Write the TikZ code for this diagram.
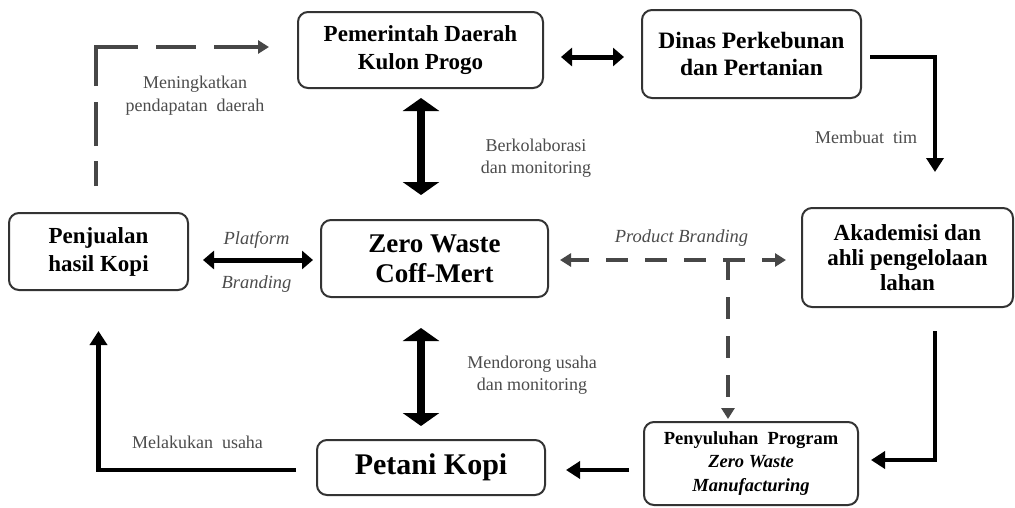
\documentclass[tikz,border=0pt]{standalone}
\usepackage{fontspec}
\setmainfont{Liberation Serif}
\usepackage{tikz}
\usetikzlibrary{shapes, arrows.meta, positioning}
\tikzstyle{kotak} = [draw=black!80, line width=2pt, rounded corners=10pt, align=center, inner sep=0pt]
\tikzstyle{ket} = [text=black!70, align=center, inner sep=0pt, font=\fontsize{18}{22.5}\selectfont]
\tikzstyle{ketmiring} = [ket, font=\itshape\fontsize{18.5}{22}\selectfont]
\tikzstyle{tebal} = [black, line width=8pt, {Triangle[width=36pt,length=13pt]}-{Triangle[width=36pt,length=13pt]}]
\tikzstyle{sedang} = [black, line width=5pt, {Triangle[width=18pt,length=11pt]}-{Triangle[width=18pt,length=11pt]}]
\tikzstyle{panah} = [black, line width=4.5pt, -{Triangle[width=17pt,length=14pt]}]
\tikzstyle{putus} = [black!72, line width=4pt, dash pattern=on 22pt off 17pt]
\tikzset{ujung/.tip={Triangle[width=13pt,length=11pt]}}

\begin{document}
\begin{tikzpicture}[x=1pt, y=-1pt]
	\path[use as bounding box, fill=white] (0,0) rectangle (1015,507);
	\node[kotak, minimum width=245pt, minimum height=76pt, font=\bfseries\fontsize{23}{28}\selectfont] (pemda) at (420.5,50) {Pemerintah Daerah\\Kulon Progo};
	\node[kotak, minimum width=219pt, minimum height=88pt, font=\bfseries\fontsize{23.5}{27}\selectfont] (dinas) at (751.5,54) {Dinas Perkebunan\\dan Pertanian};
	\node[kotak, minimum width=179pt, minimum height=77pt, font=\bfseries\fontsize{23}{28}\selectfont] (penj) at (98.5,251.5) {Penjualan\\hasil Kopi};
	\node[kotak, minimum width=227pt, minimum height=77pt, font=\bfseries\fontsize{27}{30}\selectfont] (zero) at (434.5,258.5) {Zero Waste\\Coff-Mert};
	\node[kotak, minimum width=211pt, minimum height=99pt, font=\bfseries\fontsize{23}{25}\selectfont] (akad) at (907.5,257.5) {Akademisi dan\\ahli pengelolaan\\lahan};
	\node[kotak, minimum width=228pt, minimum height=55pt, font=\bfseries\fontsize{30}{32}\selectfont] (petani) at (431,467.5) {Petani Kopi};
	\node[kotak, minimum width=214pt, minimum height=83pt, font=\bfseries\fontsize{18.5}{23.5}\selectfont] (penyuluhan) at (751,463.5) {Penyuluhan~~Program\\\textit{Zero Waste}\\\textit{Manufacturing}};

	\coordinate (timAkhir) at (935,172);
	\coordinate (cabang) at (728,260);

	\draw[sedang] ([shift={(17,7)}]pemda.east) -- ([shift={(-17,3)}]dinas.west);
	\draw[panah] ([shift={(8,3)}]dinas.east) -| (timAkhir);
	\draw[panah] ([shift={(27.5,23)}]akad.south) |- ([shift={(12,-3.5)}]penyuluhan.east);
	\draw[panah] ([shift={(-14,6.5)}]penyuluhan.west) -- ([shift={(20,2.5)}]petani.east);
	\draw[panah] ([shift={(-20,2.5)}]petani.west) -| ([shift={(0,40)}]penj.south);
	\draw[tebal] ([shift={(0.5,9)}]pemda.south) -- ([shift={(-13.5,-24)}]zero.north);
	\draw[tebal] ([shift={(-13.5,30)}]zero.south) -- ([shift={(-10,-13)}]petani.north);
	\draw[sedang] ([shift={(14,8.5)}]penj.east) -- ([shift={(-7,1.5)}]zero.west);
	\draw[putus, dash phase=3pt, ujung-ujung] ([shift={(11,1.5)}]zero.east) -- ([shift={(-15,2.5)}]akad.west);
	\draw[putus, dash phase=2pt, -ujung] (cabang) -- ([shift={(-23,-2)}]penyuluhan.north);
	\draw[putus, dash pattern=on 25pt off 15pt on 44pt off 16pt on 81pt off 18pt on 40pt off 18pt on 80pt, -ujung] ([shift={(-2.5,-26)}]penj.north) |- ([shift={(-28,-3)}]pemda.west);

	\node[ket] (lMeningkat) at (195,95.5) {Meningkatkan\\pendapatan~~daerah};
	\node[ket] (lKolaborasi) at (536,158) {Berkolaborasi\\dan monitoring};
	\node[ket] (lTim) at (866,137) {Membuat~~tim};
	\node[ketmiring] (lPlatform) at (256.5,240) {Platform};
	\node[ketmiring] (lBranding) at (256.5,284) {Branding};
	\node[ketmiring] (lProduk) at (681.5,238) {Product Branding};
	\node[ket] (lDorong) at (532,375) {Mendorong usaha\\dan monitoring};
	\node[ket] (lUsaha) at (197.5,442) {Melakukan~~usaha};
\end{tikzpicture}
\end{document}
